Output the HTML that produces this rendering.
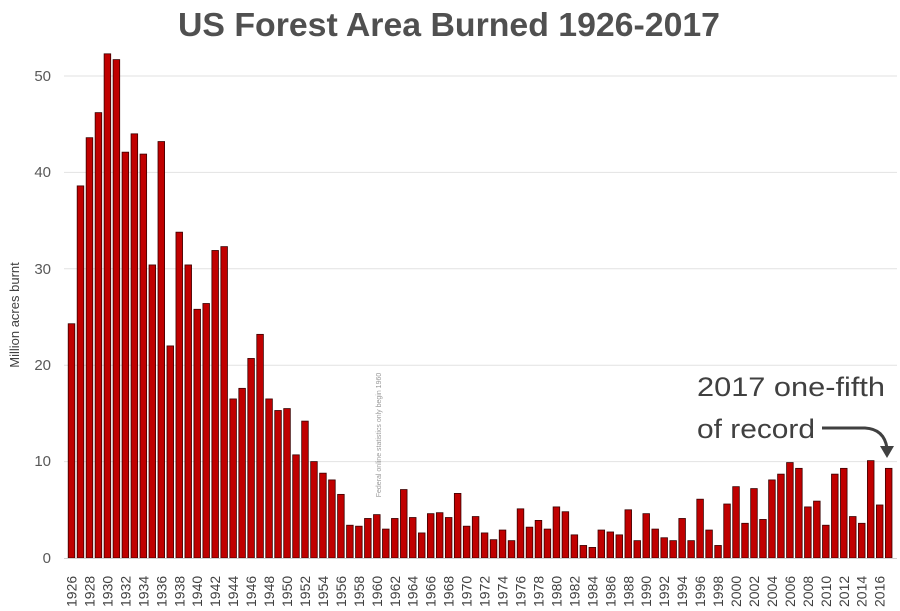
<!DOCTYPE html>
<html><head><meta charset="utf-8"><style>body{margin:0;background:#fff}svg{display:block}</style></head>
<body>
<svg width="900" height="611" xmlns="http://www.w3.org/2000/svg" font-family="Liberation Sans, sans-serif">
<text x="178" y="36" textLength="542" lengthAdjust="spacingAndGlyphs" font-size="33" font-weight="bold" fill="#505050">US Forest Area Burned 1926-2017</text>
<g stroke="#e2e2e2" stroke-width="1">
<line x1="64" x2="897" y1="461.6" y2="461.6"/><line x1="64" x2="897" y1="365.2" y2="365.2"/><line x1="64" x2="897" y1="268.8" y2="268.8"/><line x1="64" x2="897" y1="172.4" y2="172.4"/><line x1="64" x2="897" y1="76" y2="76"/>
</g>
<g font-size="15" fill="#595959" text-anchor="end">
<text x="51" y="563">0</text><text x="51" y="466">10</text><text x="51" y="370">20</text><text x="51" y="274">30</text><text x="51" y="177">40</text><text x="51" y="81">50</text>
</g>
<text transform="translate(19,315) rotate(-90)" text-anchor="middle" font-size="13" fill="#404040">Million acres burnt</text>
<g id="bars" fill="#c00000" stroke="#3a0000" stroke-width="0.8"></g>
<line x1="64" x2="897" y1="558.5" y2="558.5" stroke="#d0d0d0"/>
<g id="xl" font-size="14" fill="#404040"></g>
<text transform="translate(381,435) rotate(-90)" text-anchor="middle" font-size="7" fill="#999">Federal online statistics only begin 1960</text>
<text x="697" y="396" font-size="27" textLength="188" lengthAdjust="spacingAndGlyphs" fill="#404040">2017 one-fifth</text>
<text x="697" y="438" font-size="27" textLength="118" lengthAdjust="spacingAndGlyphs" fill="#404040">of record</text>
<path d="M822 428 L865 428 Q884 429 887 448" fill="none" stroke="#404040" stroke-width="3"/>
<path d="M880 446 L894 446 L887 458 Z" fill="#404040"/>
</svg>
<script>
var v=[24.3,38.6,43.6,46.2,52.3,51.7,42.1,44.0,41.9,30.4,43.2,22.0,33.8,30.4,25.8,26.4,31.9,32.3,16.5,17.6,20.7,23.2,16.5,15.3,15.5,10.7,14.2,10.0,8.8,8.1,6.6,3.4,3.3,4.1,4.5,3.0,4.1,7.1,4.2,2.6,4.6,4.7,4.2,6.7,3.3,4.3,2.6,1.9,2.9,1.8,5.1,3.2,3.9,3.0,5.3,4.8,2.4,1.3,1.1,2.9,2.7,2.4,5.0,1.8,4.6,3.0,2.1,1.8,4.1,1.8,6.1,2.9,1.3,5.6,7.4,3.6,7.2,4.0,8.1,8.7,9.9,9.3,5.3,5.9,3.4,8.7,9.3,4.3,3.6,10.1,5.5,9.3];
var ns="http://www.w3.org/2000/svg",b=document.getElementById("bars"),xl=document.getElementById("xl");
for(var i=0;i<v.length;i++){var cx=71.5+i*8.98,h=v[i]*9.64;var r=document.createElementNS(ns,"rect");
r.setAttribute("x",cx-3.3);r.setAttribute("y",558-h);r.setAttribute("width",6.6);r.setAttribute("height",h);b.appendChild(r);
if(i%2==0){var t=document.createElementNS(ns,"text");t.setAttribute("transform","translate("+(cx+5)+",607) rotate(-90)");t.textContent=1926+i;xl.appendChild(t);}}
</script>
</body></html>
